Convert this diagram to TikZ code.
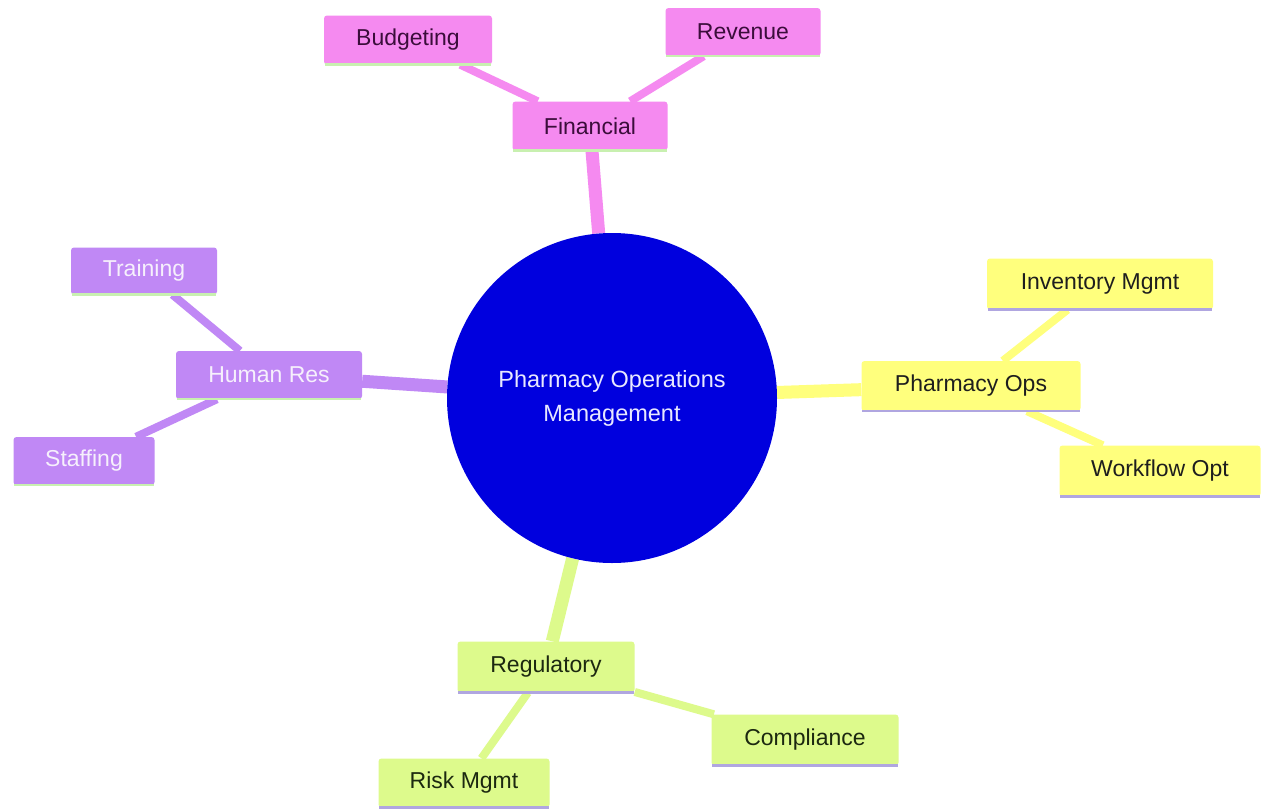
\documentclass[tikz,border=0pt]{standalone}
\usepackage{fontspec}
\setmainfont{Liberation Sans}
\usetikzlibrary{backgrounds}
\definecolor{pinkf}{RGB}{245,138,240}
\definecolor{purf}{RGB}{192,136,245}
\definecolor{yelf}{RGB}{255,255,125}
\definecolor{grnf}{RGB}{221,250,140}
\definecolor{circf}{RGB}{0,0,222}
\definecolor{pinktxt}{RGB}{59,13,59}
\definecolor{purtxt}{RGB}{246,240,252}
\definecolor{yeltxt}{RGB}{30,30,30}
\definecolor{grntxt}{RGB}{28,40,16}
\definecolor{circtxt}{RGB}{232,232,255}
\definecolor{lgline}{RGB}{200,240,176}
\definecolor{lpline}{RGB}{176,166,224}
\begin{document}
\begin{tikzpicture}[x=1pt,y=-1pt,
  font=\fontsize{23}{27}\selectfont,
  box/.style={rectangle, rounded corners=3pt, minimum height=49pt, inner sep=0pt},
  pinkbox/.style={box, fill=pinkf, text=pinktxt},
  purbox/.style={box, fill=purf, text=purtxt},
  yelbox/.style={box, fill=yelf, text=yeltxt},
  grnbox/.style={box, fill=grnf, text=grntxt},
  mainedge/.style={line width=13pt},
  subedge/.style={line width=8pt}]
\useasboundingbox (0,0) rectangle (1261,809);

\node[circle, fill=circf, text=circtxt, minimum size=330pt, inner sep=0pt, align=center,
  font=\fontsize{23.5}{34}\selectfont] (c) at (612,398) {Pharmacy Operations\\Management};

\node[pinkbox, minimum width=155pt] (fin) at (590,126) {Financial};
\node[pinkbox, minimum width=168pt] (bud) at (408,40) {Budgeting};
\node[pinkbox, minimum width=155pt, minimum height=48pt] (rev) at (743,32) {Revenue};

\node[purbox, minimum width=186pt, minimum height=48pt] (hr) at (269,375) {Human Res};
\node[purbox, minimum width=146pt, minimum height=47pt] (tr) at (144,271) {Training};
\node[purbox, minimum width=141pt, minimum height=48pt] (st) at (84,461) {Staffing};

\node[yelbox, minimum width=219pt, minimum height=50pt] (po) at (971,386) {Pharmacy Ops};
\node[yelbox, minimum width=226pt, minimum height=51pt] (inv) at (1100,284) {Inventory Mgmt};
\node[yelbox, minimum width=201pt, minimum height=51pt] (wf) at (1160,471) {Workflow Opt};

\node[grnbox, minimum width=177pt, minimum height=51pt] (reg) at (546,667) {Regulatory};
\node[grnbox, minimum width=187pt, minimum height=51pt] (comp) at (805,740) {Compliance};
\node[grnbox, minimum width=171pt, minimum height=49pt] (risk) at (464,783) {Risk Mgmt};

\foreach \n/\col in {fin/lgline, bud/lgline, rev/lgline, hr/lgline, tr/lgline, st/lgline,
  po/lpline, inv/lpline, wf/lpline, reg/lpline, comp/lpline, risk/lpline}
  \draw[\col, line width=2.5pt] ([xshift=1pt]\n.south west) -- ([xshift=-1pt]\n.south east);

\begin{scope}[on background layer]
  \fill[white] (0,0) rectangle (1261,809);
  \draw[pinkf, mainedge] (c) -- (fin);
  \draw[pinkf, subedge] (fin) -- (bud);
  \draw[pinkf, subedge] (fin) -- (rev);
  \draw[purf, mainedge] (c) -- (hr);
  \draw[purf, subedge] (hr) -- (tr);
  \draw[purf, subedge] (hr) -- (st);
  \draw[yelf, mainedge] (c) -- (po);
  \draw[yelf, subedge] (po) -- (inv);
  \draw[yelf, subedge] (po) -- (wf);
  \draw[grnf, mainedge] (c) -- (reg);
  \draw[grnf, subedge] (reg) -- (comp);
  \draw[grnf, subedge] (reg) -- (risk);
\end{scope}
\end{tikzpicture}
\end{document}
